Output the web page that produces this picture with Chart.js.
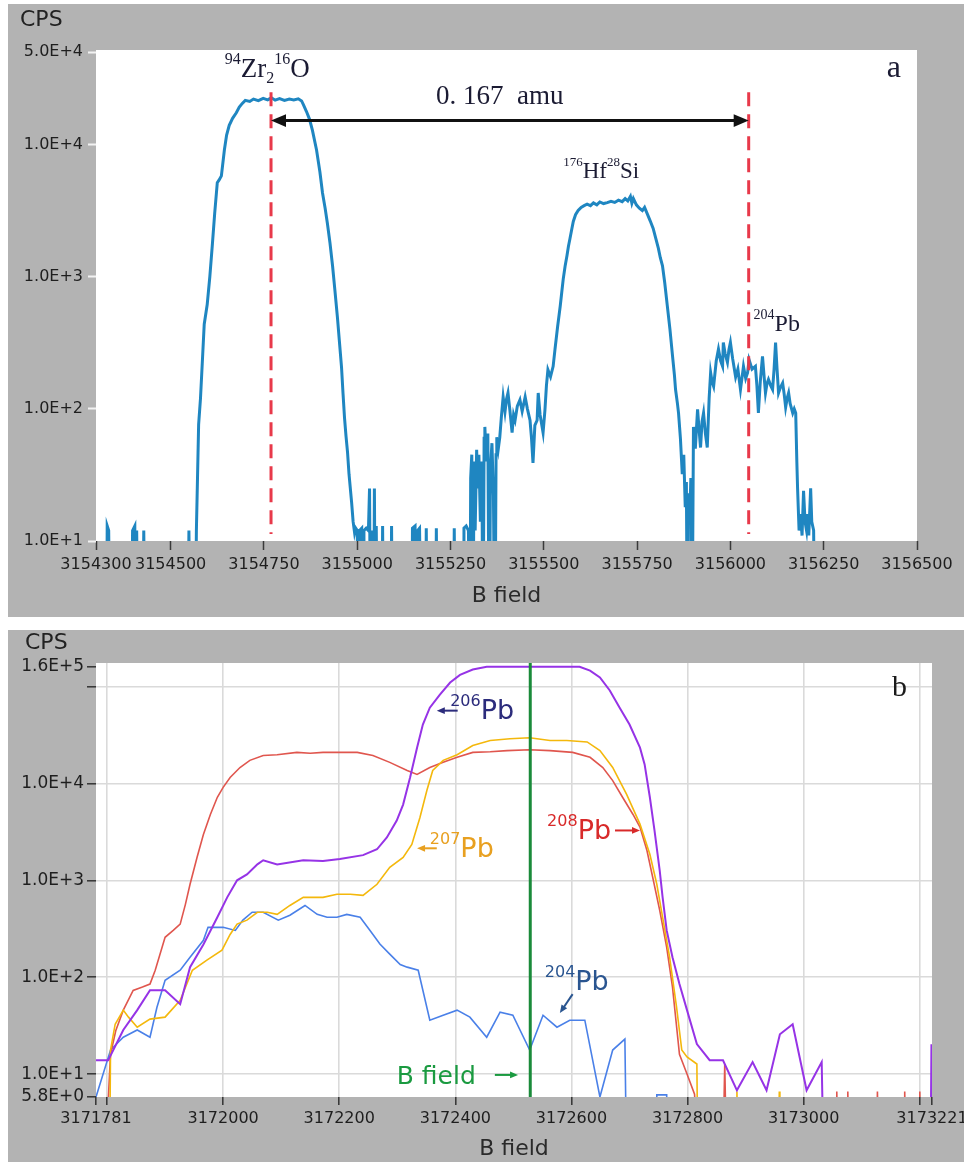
<!DOCTYPE html>
<html>
<head>
<meta charset="utf-8">
<script src="https://cdn.jsdelivr.net/npm/chart.js@4.4.1/dist/chart.umd.min.js"></script>
<style>
  body { margin: 0; background: #fff; width: 964px; height: 1162px; overflow: hidden; position: relative; }
  .panel { position: absolute; left: 8px; width: 956px; background: #b3b3b3; }
  #wrapA { top: 4px; height: 613px; }
  #wrapB { top: 630px; height: 532px; }
</style>
</head>
<body>
<div class="panel" id="wrapA"><canvas id="chartA"></canvas></div>
<div class="panel" id="wrapB"><canvas id="chartB"></canvas></div>
<script>
// ---- panel a : B field scan, 94Zr2 16O / 176Hf 28Si / 204Pb (cps 1 = nothing counted)
const bFieldTicksA = [3154300, 3154500, 3154750, 3155000, 3155250, 3155500, 3155750, 3156000, 3156250, 3156500];
const bFieldTickLabelsA = ['3154300', '3154500', '3154750', '3155000', '3155250', '3155500', '3155750', '3156000', '3156250', '3156500'];
const cpsTicksA = [10, 100, 1000, 10000, 50000];
const cpsTickLabelsA = ['1.0E+1', '1.0E+2', '1.0E+3', '1.0E+4', '5.0E+4'];

const scanA = [
  [3154300,1],[3154328,1],[3154330,13],[3154334,12],[3154338,1],
  [3154395,1],[3154398,12],[3154404,13],[3154406,1],[3154409,12],[3154413,1],
  [3154425,1],[3154428,12],[3154432,1],[3154546,1],[3154549,12],[3154553,1],
  [3154566,1],[3154569,12],[3154572,30],[3154575,76],[3154580,120],[3154586,260],[3154590,437],[3154598,616],
  [3154605,1000],[3154612,1780],[3154618,3000],[3154625,5150],[3154630,5400],[3154636,5800],[3154644,9100],
  [3154650,11800],[3154657,14000],[3154666,15800],[3154676,17400],[3154684,19200],[3154692,20500],
  [3154700,21600],[3154712,21200],[3154722,22100],[3154735,21500],[3154748,22400],[3154760,21800],[3154770,22600],
  [3154780,21700],[3154792,22300],[3154805,21600],[3154818,22100],[3154830,21800],[3154842,22200],[3154851,21400],
  [3154856,20000],[3154864,17800],[3154872,15600],[3154880,12800],[3154891,9100],[3154900,6200],[3154907,4300],
  [3154914,3300],[3154920,2540],[3154927,1800],[3154934,1200],[3154940,800],[3154947,490],[3154952,330],
  [3154958,205],[3154962,130],[3154966,85],[3154970,62],[3154974,47],[3154978,32],[3154985,19.5],[3154989,14],
  [3154993,11.5],[3154996,12.5],[3155000,12],[3155004,1],[3155006,12],[3155012,12.5],[3155016,1],[3155018,12],
  [3155024,12.5],[3155030,12],[3155033,25],[3155036,1],[3155038,12],[3155044,1],[3155046,25],[3155049,1],
  [3155051,13],[3155054,1],[3155066,1],[3155068,13],[3155071,1],[3155090,1],[3155092,13],[3155095,1],
  [3155146,1],[3155148,12.5],[3155155,13],[3155160,1],[3155162,12],[3155167,12.5],[3155172,1],[3155183,1],
  [3155185,12.5],[3155188,1],[3155210,1],[3155212,12.5],[3155215,1],[3155258,1],[3155260,12.5],[3155263,1],
  [3155284,1],[3155286,12.5],[3155292,13],[3155298,12],[3155302,1],[3155304,30],[3155307,45],[3155310,1],
  [3155313,40],[3155316,12],[3155320,49],[3155323,25],[3155326,45],[3155330,14],[3155334,40],[3155337,1],
  [3155340,60],[3155342,73],[3155346,40],[3155350,65],[3155354,1],[3155357,35],[3155361,55],[3155365,22],
  [3155369,1],[3155372,45],[3155374,61],[3155378,50],[3155382,61],[3155386,85],[3155391,123],[3155396,95],
  [3155400,118],[3155404,132],[3155409,98],[3155415,66],[3155419,90],[3155423,82],[3155429,105],[3155436,117],
  [3155442,96],[3155450,123],[3155456,100],[3155463,82],[3155467,60],[3155471,39],[3155476,75],[3155482,82],
  [3155485,132],[3155490,90],[3155498,66],[3155503,98],[3155507,150],[3155511,198],[3155518,175],[3155525,210],
  [3155530,283],[3155537,420],[3155544,600],[3155548,760],[3155552,960],[3155557,1200],[3155562,1440],
  [3155566,1700],[3155570,1940],[3155575,2300],[3155579,2620],[3155585,2950],[3155592,3170],[3155600,3350],
  [3155608,3450],[3155616,3540],[3155625,3450],[3155633,3620],[3155642,3500],[3155650,3680],[3155660,3580],
  [3155670,3640],[3155680,3720],[3155690,3650],[3155700,3800],[3155710,3700],[3155718,3900],[3155725,3750],
  [3155732,4060],[3155736,3600],[3155740,3900],[3155748,3500],[3155756,3300],[3155764,3170],[3155770,3350],
  [3155777,3000],[3155785,2650],[3155793,2320],[3155800,1950],[3155807,1640],[3155812,1400],[3155818,1210],
  [3155824,900],[3155831,600],[3155838,400],[3155845,250],[3155850,180],[3155853,140],[3155858,110],
  [3155861,93],[3155866,60],[3155871,32],[3155875,45],[3155879,18],[3155882,28],[3155885,1],[3155887,23],
  [3155891,15],[3155894,30],[3155897,1],[3155901,73],[3155906,50],[3155912,99],[3155916,70],[3155920,51],
  [3155924,80],[3155928,93],[3155933,65],[3155938,51],[3155943,120],[3155947,188],[3155951,160],[3155955,148],
  [3155962,230],[3155968,283],[3155974,230],[3155979,210],[3155981,318],[3155986,260],[3155992,225],
  [3155996,280],[3156000,318],[3156006,240],[3156014,174],[3156020,200],[3156027,140],[3156032,180],
  [3156035,210],[3156041,170],[3156046,188],[3156050,236],[3156058,200],[3156067,210],[3156071,150],
  [3156075,93],[3156080,160],[3156086,250],[3156090,180],[3156094,132],[3156098,155],[3156102,167],
  [3156108,150],[3156113,140],[3156117,200],[3156121,318],[3156125,200],[3156129,132],[3156134,145],
  [3156140,157],[3156144,130],[3156148,103],[3156152,120],[3156156,132],[3156160,110],[3156167,93],
  [3156171,100],[3156175,93],[3156178,40],[3156180,25],[3156184,12],[3156188,16],[3156192,11],[3156196,24],
  [3156200,14],[3156204,12],[3156207,16],[3156210,11],[3156215,25],[3156218,14],[3156223,12],[3156227,1],
  [3156500,1]
];
// dashed markers at 94Zr2 16O and 204Pb, 0.167 amu apart
const markerFieldsA = [3154769, 3156049];
const markerCpsA = [24900, 11.3];

// ---- panel b : Pb isotopes
const bFieldTicksB = [3171781, 3171800, 3172000, 3172200, 3172400, 3172600, 3172800, 3173000, 3173200, 3173221];
const bFieldTickLabelsB = ['3171781', '', '3172000', '3172200', '3172400', '3172600', '3172800', '3173000', '', '3173221'];
const cpsTicksB = [5.8, 10, 100, 1000, 10000, 100000, 160000];
const cpsTickLabelsB = ['5.8E+0', '1.0E+1', '1.0E+2', '1.0E+3', '1.0E+4', '', '1.6E+5'];

const pb206 = [
  [3171781,13.9],[3171802,13.9],[3171828,28.5],[3171852,45.7],[3171874,73.5],[3171900,73.5],[3171926,52.6],
  [3171943,127],[3171966,218],[3171990,415],[3172007,667],[3172024,1000],[3172041,1150],[3172059,1460],
  [3172069,1610],[3172093,1460],[3172138,1610],[3172172,1580],[3172201,1660],[3172241,1820],[3172265,2090],
  [3172282,2770],[3172299,4140],[3172310,6050],[3172322,11500],[3172334,23400],[3172344,40500],[3172356,60500],
  [3172373,82000],[3172391,110000],[3172408,132000],[3172430,150000],[3172454,160000],[3172614,160000],
  [3172632,146000],[3172649,124000],[3172666,91000],[3172683,60500],[3172700,40500],[3172718,23400],
  [3172726,15700],[3172735,7200],[3172743,3270],[3172752,1260],[3172757,667],[3172764,304],[3172774,161],
  [3172786,85],[3172799,45.7],[3172816,20.4],[3172838,13.9],[3172861,13.9],[3172885,6.8],[3172912,13.3],
  [3172936,6.8],[3172959,25.8],[3172981,32.7],[3173005,6.8],[3173031,13.3],[3173033,3],[3173219,3],
  [3173220,19.9],[3173221,19.9]
];
const pb207 = [
  [3171805,3],[3171806,17.7],[3171814,32.7],[3171828,45.7],[3171837,38.7],[3171852,30.5],[3171874,36.9],
  [3171900,38.7],[3171926,57.8],[3171947,118],[3171972,150],[3171998,190],[3172012,276],[3172024,353],
  [3172041,388],[3172059,468],[3172076,468],[3172093,445],[3172115,550],[3172138,667],[3172172,667],
  [3172196,718],[3172219,718],[3172241,700],[3172265,910],[3172287,1360],[3172310,1720],[3172325,2350],
  [3172339,4450],[3172351,8500],[3172361,13600],[3172379,17300],[3172403,19800],[3172430,24600],
  [3172460,27700],[3172494,28900],[3172528,29600],[3172563,27700],[3172592,27700],[3172627,26800],
  [3172649,21800],[3172671,14600],[3172695,7700],[3172718,3800],[3172735,1860],[3172747,910],[3172757,415],
  [3172769,161],[3172781,49],[3172790,17.7],[3172799,15],[3172816,12.7],[3172817,3],[3172884,3],
  [3172885,6.6],[3172886,3],[3172957,3],[3172958,6.6],[3172959,3]
];
const pb208 = [
  [3171800,3],[3171806,16],[3171815,28],[3171828,45.7],[3171845,73],[3171861,79],[3171874,85],[3171883,118],
  [3171900,258],[3171914,304],[3171926,353],[3171935,565],[3171943,910],[3171955,1720],[3171966,2970],
  [3171978,4780],[3171990,7200],[3172000,9100],[3172012,11500],[3172029,14600],[3172046,17300],
  [3172069,19400],[3172093,19800],[3172127,20900],[3172150,20500],[3172172,20900],[3172200,20900],
  [3172231,20900],[3172258,19400],[3172287,16500],[3172317,13600],[3172334,12400],[3172356,14600],
  [3172379,16500],[3172403,18600],[3172430,20900],[3172460,21200],[3172489,21800],[3172528,22300],
  [3172563,21800],[3172602,20900],[3172632,18600],[3172654,14600],[3172671,10700],[3172688,7200],
  [3172706,4780],[3172718,3540],[3172730,2030],[3172740,1070],[3172752,490],[3172764,203],[3172774,79],
  [3172786,16],[3172799,10],[3172812,6.2],[3172815,3],[3172862,3],[3172864,12.7],[3172866,3],
  [3173056,3],[3173057,6.6],[3173058,3],[3173075,3],[3173076,6.6],[3173077,3],[3173126,3],[3173127,6.6],
  [3173128,3],[3173173,3],[3173174,6.6],[3173175,3],[3173199,3],[3173200,6.6],[3173201,3]
];
const pb204 = [
  [3171781,5.8],[3171806,17.7],[3171828,24],[3171852,28.5],[3171874,24],[3171886,49],[3171900,93],
  [3171926,118],[3171943,161],[3171966,240],[3171974,327],[3172000,327],[3172021,304],[3172034,388],
  [3172050,468],[3172069,468],[3172095,388],[3172115,436],[3172141,550],[3172162,445],[3172179,415],
  [3172196,415],[3172213,445],[3172236,415],[3172253,304],[3172270,220],[3172287,173],[3172305,135],
  [3172317,127],[3172336,118],[3172356,36],[3172379,40.5],[3172403,45.7],[3172425,38.7],[3172454,24],
  [3172477,43.6],[3172499,40.5],[3172528,17.7],[3172551,40.5],[3172575,30.5],[3172597,36],[3172623,36],
  [3172649,5.8],[3172671,17.7],[3172692,23],[3172694,3],[3172746,3],[3172747,6.1],[3172764,6.1],[3172765,3]
];
const fieldMarkerB = 3172529;
const fieldMarkerCpsB = [5.8, 175000];

Chart.defaults.font.family = 'DejaVu Sans';

function toXY(pairs) {
  return pairs.map(p => ({ x: p[0], y: p[1] }));
}

// white plot area on the grey panel
const plotBg = {
  id: 'plotBg',
  beforeDraw(chart) {
    const a = chart.chartArea, ctx = chart.ctx;
    ctx.save();
    ctx.fillStyle = '#ffffff';
    ctx.fillRect(a.left, a.top, a.right - a.left, a.bottom - a.top);
    ctx.restore();
  }
};

function drawRich(ctx, parts, x, y, size, family, color, align) {
  const small = Math.round(size * 0.58);
  const sizeOf = k => (k == 'n' ? size : small);
  let total = 0;
  parts.forEach(p => {
    ctx.font = sizeOf(p[1]) + 'px "' + family + '"';
    total += ctx.measureText(p[0]).width;
  });
  let cx = align == 'center' ? x - total / 2 : x;
  ctx.fillStyle = color;
  ctx.textAlign = 'left';
  ctx.textBaseline = 'alphabetic';
  parts.forEach(p => {
    ctx.font = sizeOf(p[1]) + 'px "' + family + '"';
    let dy = 0;
    if (p[1] == 'sup') dy = -size * 0.5;
    if (p[1] == 'sub') dy = size * 0.2;
    ctx.fillText(p[0], cx, y + dy);
    cx += ctx.measureText(p[0]).width;
  });
}

function arrowHead(ctx, x, y, ang, head) {
  const c = Math.cos(ang), s = Math.sin(ang), w = head * 0.42;
  ctx.beginPath();
  ctx.moveTo(x, y);
  ctx.lineTo(x - head * c + w * s, y - head * s - w * c);
  ctx.lineTo(x - head * c - w * s, y - head * s + w * c);
  ctx.closePath();
  ctx.fill();
}

function drawArrow(ctx, n, x1, y1, x2, y2) {
  const ang = Math.atan2(y2 - y1, x2 - x1);
  const c = Math.cos(ang), s = Math.sin(ang);
  const back = n.head * 0.8;
  ctx.strokeStyle = n.color;
  ctx.fillStyle = n.color;
  ctx.lineWidth = n.width;
  ctx.beginPath();
  ctx.moveTo(n.both ? x1 + back * c : x1, n.both ? y1 + back * s : y1);
  ctx.lineTo(x2 - back * c, y2 - back * s);
  ctx.stroke();
  arrowHead(ctx, x2, y2, ang, n.head);
  if (n.both) arrowHead(ctx, x1, y1, ang + Math.PI, n.head);
}

// labels, arrows and the "CPS" caption
const notes = {
  id: 'notes',
  afterDatasetsDraw(chart, args, opts) {
    const ctx = chart.ctx, xs = chart.scales.x, ys = chart.scales.y;
    ctx.save();
    (opts.items || []).forEach(n => {
      if (n.type == 'text') {
        drawRich(ctx, n.parts, xs.getPixelForValue(n.x), ys.getPixelForValue(n.y),
          n.size, n.family || 'DejaVu Sans', n.color, n.align);
      } else {
        drawArrow(ctx, n, xs.getPixelForValue(n.x1), ys.getPixelForValue(n.y1),
          xs.getPixelForValue(n.x2), ys.getPixelForValue(n.y2));
      }
    });
    if (opts.caption) {
      ctx.font = '22px "DejaVu Sans"';
      ctx.fillStyle = '#222';
      ctx.textAlign = 'left';
      ctx.textBaseline = 'middle';
      ctx.fillText(opts.caption.text, opts.caption.left, opts.caption.mid);
    }
    ctx.restore();
  }
};

const SERIF = 'Liberation Serif';

new Chart(document.getElementById('chartA'), {
  type: 'line',
  data: {
    datasets: [
      ...markerFieldsA.map(f => ({
        data: markerCpsA.map(c => ({ x: f, y: c })),
        borderColor: '#e8394a', borderWidth: 3, borderDash: [14, 8]
      })),
      {
        data: toXY(scanA),
        borderColor: '#1f86c1', borderWidth: 3
      }
    ]
  },
  options: {
    responsive: true, maintainAspectRatio: false, animation: false, events: [],
    layout: { padding: { top: 46, right: 47, bottom: 0, left: 0 } },
    elements: { point: { radius: 0 }, line: { tension: 0 } },
    plugins: {
      legend: { display: false }, tooltip: { enabled: false },
      notes: {
        caption: { text: 'CPS', left: 12, mid: 16 },
        items: [
          { type: 'text', x: 3154645, y: 32300, size: 27, family: SERIF, color: '#1b1b33',
            parts: [['94', 'sup'], ['Zr', 'n'], ['2', 'sub'], ['16', 'sup'], ['O', 'n']] },
          { type: 'text', x: 3155382, y: 20200, size: 27, family: SERIF, color: '#1b1b33', align: 'center',
            parts: [['0. 167  amu', 'n']] },
          { type: 'arrow', x1: 3154769, y1: 15200, x2: 3156049, y2: 15200, both: true, color: '#111', width: 3, head: 15 },
          { type: 'text', x: 3155552, y: 5600, size: 23, family: SERIF, color: '#1b1b33',
            parts: [['176', 'sup'], ['Hf', 'n'], ['28', 'sup'], ['Si', 'n']] },
          { type: 'text', x: 3156062, y: 387, size: 24, family: SERIF, color: '#1b1b33',
            parts: [['204', 'sup'], ['Pb', 'n']] },
          { type: 'text', x: 3156438, y: 32300, size: 32, family: SERIF, color: '#1b1b33', align: 'center',
            parts: [['a', 'n']] }
        ]
      }
    },
    scales: {
      x: {
        type: 'linear', min: 3154300, max: 3156500,
        border: { display: false },
        grid: { drawOnChartArea: false, tickLength: 9, tickColor: '#3a3a3a', tickWidth: 1.5 },
        ticks: { autoSkip: false, maxRotation: 0, minRotation: 0, padding: 5, color: '#1e1e1e', font: { size: 16 },
          callback: (v, i) => bFieldTickLabelsA[i] },
        afterBuildTicks: s => { s.ticks = bFieldTicksA.map(v => ({ value: v })); },
        afterFit: s => { s.height = 76; s.paddingLeft = 0; s.paddingRight = 0; },
        title: { display: true, text: 'B field', color: '#2a2a2a', font: { size: 22 }, padding: { top: 0, bottom: 8 } }
      },
      y: {
        type: 'logarithmic', min: 10, max: 52000,
        border: { display: false },
        grid: { drawOnChartArea: false, tickLength: 8, tickColor: '#f2f2f2', tickWidth: 2 },
        ticks: { padding: 5, color: '#1e1e1e', font: { size: 16 },
          callback: (v, i) => cpsTickLabelsA[i] },
        afterBuildTicks: s => { s.ticks = cpsTicksA.map(v => ({ value: v })); },
        afterFit: s => { s.width = 88; s.paddingTop = 0; s.paddingBottom = 0; }
      }
    }
  },
  plugins: [plotBg, notes]
});

const gridEnds = (ends) => ctx => (ctx.tick && ends.includes(ctx.tick.value)) ? 'rgba(0,0,0,0)' : '#dadada';

new Chart(document.getElementById('chartB'), {
  type: 'line',
  data: {
    datasets: [
      { data: fieldMarkerCpsB.map(c => ({ x: fieldMarkerB, y: c })), borderColor: '#1a8a3a', borderWidth: 3 },
      { data: toXY(pb206), borderColor: '#9633e6', borderWidth: 2 },
      { data: toXY(pb207), borderColor: '#f4b80c', borderWidth: 1.6 },
      { data: toXY(pb208), borderColor: '#e0564e', borderWidth: 1.6 },
      { data: toXY(pb204), borderColor: '#4a80e8', borderWidth: 1.6 }
    ]
  },
  options: {
    responsive: true, maintainAspectRatio: false, animation: false, events: [],
    layout: { padding: { top: 33, right: 32, bottom: 0, left: 0 } },
    elements: { point: { radius: 0 }, line: { tension: 0 } },
    plugins: {
      legend: { display: false }, tooltip: { enabled: false },
      notes: {
        caption: { text: 'CPS', left: 17, mid: 13 },
        items: [
          { type: 'text', x: 3172391, y: 45700, size: 27, color: '#2c2c7c', parts: [['206', 'sup'], ['Pb', 'n']] },
          { type: 'arrow', x1: 3172404, y1: 56400, x2: 3172368, y2: 56400, color: '#2c2c7c', width: 2, head: 8 },
          { type: 'text', x: 3172356, y: 1740, size: 27, color: '#e8a020', parts: [['207', 'sup'], ['Pb', 'n']] },
          { type: 'arrow', x1: 3172368, y1: 2140, x2: 3172334, y2: 2140, color: '#e8a020', width: 2, head: 8 },
          { type: 'text', x: 3172558, y: 2640, size: 27, color: '#d82a2a', parts: [['208', 'sup'], ['Pb', 'n']] },
          { type: 'arrow', x1: 3172675, y1: 3270, x2: 3172718, y2: 3270, color: '#d82a2a', width: 2, head: 8 },
          { type: 'text', x: 3172554, y: 73.5, size: 27, color: '#2a5590', parts: [['204', 'sup'], ['Pb', 'n']] },
          { type: 'arrow', x1: 3172602, y1: 66.8, x2: 3172580, y2: 42.6, color: '#2a5590', width: 2, head: 8 },
          { type: 'text', x: 3172299, y: 7.9, size: 25, color: '#1a9a40', parts: [['B field', 'n']] },
          { type: 'arrow', x1: 3172468, y1: 9.8, x2: 3172508, y2: 9.8, color: '#1a9a40', width: 2, head: 8 },
          { type: 'text', x: 3173165, y: 80700, size: 30, family: SERIF, color: '#1a1a1a', align: 'center', parts: [['b', 'n']] }
        ]
      }
    },
    scales: {
      x: {
        type: 'linear', min: 3171781, max: 3173221,
        border: { display: false },
        grid: { color: gridEnds([3171781, 3173221]), lineWidth: 1.6, tickLength: 8, tickColor: '#333', tickWidth: 1.5 },
        ticks: { autoSkip: false, maxRotation: 0, minRotation: 0, padding: 4, color: '#1e1e1e', font: { size: 16 },
          callback: (v, i) => bFieldTickLabelsB[i] },
        afterBuildTicks: s => { s.ticks = bFieldTicksB.map(v => ({ value: v })); },
        afterFit: s => { s.height = 65; s.paddingLeft = 0; s.paddingRight = 0; },
        title: { display: true, text: 'B field', color: '#2a2a2a', font: { size: 22 }, padding: { top: 0, bottom: 0 } }
      },
      y: {
        type: 'logarithmic', min: 5.8, max: 175000,
        border: { display: false },
        grid: { color: gridEnds([5.8, 160000]), lineWidth: 1.6, tickLength: 9, tickColor: '#333', tickWidth: 1.5 },
        ticks: { padding: 3, color: '#1e1e1e', font: { size: 17 },
          callback: (v, i) => cpsTickLabelsB[i] },
        afterBuildTicks: s => { s.ticks = cpsTicksB.map(v => ({ value: v })); },
        afterFit: s => { s.width = 88; s.paddingTop = 0; s.paddingBottom = 0; }
      }
    }
  },
  plugins: [plotBg, notes]
});
</script>
</body>
</html>
